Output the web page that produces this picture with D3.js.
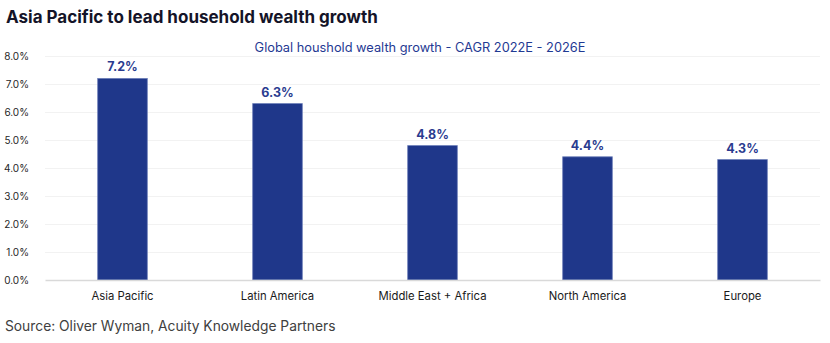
<!DOCTYPE html>
<html>
<head>
<meta charset="utf-8">
<script src="https://cdn.jsdelivr.net/npm/d3@7"></script>
<style>
  body { margin: 0; background: #fff; }
  svg { display: block; font-family: "Inter", "Open Sans", sans-serif; }
</style>
</head>
<body>
<div id="chart"></div>
<script>
const categories = ['Asia Pacific', 'Latin America', 'Middle East + Africa', 'North America', 'Europe'];
const growth = [7.2, 6.3, 4.8, 4.4, 4.3];
const yTicks = [0, 1, 2, 3, 4, 5, 6, 7, 8];

const width = 830;
const height = 343;
const margin = {top: 56, right: 10, bottom: 63, left: 45};

const svg = d3.select('#chart')
    .append('svg')
    .attr('width', width)
    .attr('height', height);

// titre et sous-titre
svg.append('text')
    .attr('x', 6)
    .attr('y', 23)
    .attr('fill', '#141428')
    .style('font-size', '17px')
    .style('font-weight', 700)
    .text('Asia Pacific to lead household wealth growth');

const x = d3.scaleBand()
    .domain(categories)
    .range([margin.left, width - margin.right])
    .paddingInner(0.68)
    .paddingOuter(0.34);

const y = d3.scaleLinear()
    .domain([0, 8])
    .range([height - margin.bottom, margin.top]);

svg.append('text')
    .attr('x', 420)
    .attr('y', 52)
    .attr('text-anchor', 'middle')
    .attr('fill', '#1f3a93')
    .style('font-size', '12.8px')
    .text('Global houshold wealth growth - CAGR 2022E - 2026E');

// grille
svg.append('g')
    .selectAll('line')
    .data(yTicks.filter(d => d > 0))
    .join('line')
    .attr('x1', margin.left)
    .attr('x2', width - margin.right)
    .attr('y1', d => y(d) + 0.5)
    .attr('y2', d => y(d) + 0.5)
    .attr('stroke', '#f2f2f2');

// axe Y
const yAxis = svg.append('g')
    .attr('transform', `translate(${margin.left - 13},0)`)
    .call(d3.axisLeft(y).tickValues(yTicks).tickSize(0).tickFormat(d => d.toFixed(1) + '%'));
yAxis.select('.domain').remove();
yAxis.selectAll('text')
    .attr('fill', '#262626')
    .style('font-size', '10px')
    .style('font-family', '"Inter", "Open Sans", sans-serif');

// barres
svg.append('g')
    .selectAll('rect')
    .data(growth)
    .join('rect')
    .attr('x', (d, i) => x(categories[i]))
    .attr('y', d => y(d))
    .attr('width', x.bandwidth())
    .attr('height', d => y(0) - y(d))
    .attr('fill', '#1f378a')
    .attr('stroke', '#6d7fb8')
    .attr('stroke-width', 0.8);

// étiquettes de valeur
svg.append('g')
    .selectAll('text')
    .data(growth)
    .join('text')
    .attr('x', (d, i) => x(categories[i]) + x.bandwidth() / 2)
    .attr('y', d => y(d) - 7)
    .attr('text-anchor', 'middle')
    .attr('fill', '#2a3b8f')
    .style('font-size', '12.5px')
    .style('font-weight', 700)
    .text(d => d.toFixed(1) + '%');

// axe X
const xAxis = svg.append('g')
    .attr('transform', `translate(0,${y(0)})`)
    .call(d3.axisBottom(x).tickSize(0).tickPadding(12));
xAxis.select('.domain')
    .attr('stroke', '#d9d9d9')
    .attr('stroke-width', 1.5);
xAxis.selectAll('text')
    .attr('fill', '#1a1a1a')
    .style('font-size', '11.3px')
    .style('font-family', '"Inter", "Open Sans", sans-serif');

// source
svg.append('text')
    .attr('x', 5)
    .attr('y', 331)
    .attr('fill', '#404040')
    .style('font-size', '13.8px')
    .text('Source: Oliver Wyman, Acuity Knowledge Partners');
</script>
</body>
</html>
